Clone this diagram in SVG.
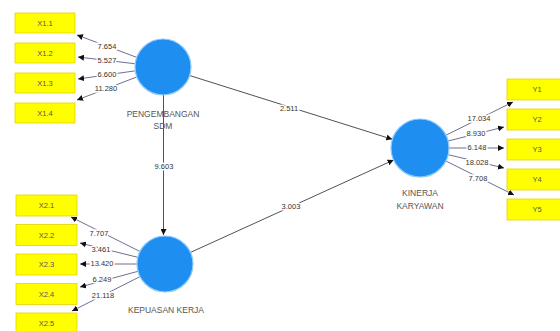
<svg xmlns="http://www.w3.org/2000/svg" width="560" height="331" viewBox="0 0 560 331">
<style>
.box{fill:#ffff00;stroke:#e6d200;stroke-width:0.8}
.bt{font-family:"Liberation Sans",Arial,sans-serif;font-size:7.5px;fill:#555;text-anchor:middle;dominant-baseline:central}
.node{fill:#1e8ff0;stroke:#8fcaff;stroke-width:1.2}
.nl{font-family:"Liberation Sans",Arial,sans-serif;font-size:8.5px;fill:#555;text-anchor:middle}
.ln{stroke:#3c3c4a;stroke-width:0.9;fill:none;marker-end:url(#ah)}
.ol{stroke:#4a4a78;stroke-width:0.8;fill:none;marker-end:url(#ah)}
.lb{font-family:"Liberation Sans",Arial,sans-serif;font-size:7.5px;fill:#333;text-anchor:middle;dominant-baseline:central;stroke:#fff;stroke-width:3;paint-order:stroke}
</style>
<defs>
<marker id="ah" markerUnits="userSpaceOnUse" markerWidth="7" markerHeight="6" refX="6" refY="3" orient="auto">
<path d="M0,0 L6,3 L0,6 Z" fill="#111"/>
</marker>
</defs>
<rect width="560" height="331" fill="#fff"/>
<g id="connectors">
<line class="ol" x1="136.3" y1="57.2" x2="77" y2="35"/>
<line class="ol" x1="134.7" y1="63.7" x2="78" y2="57"/>
<line class="ol" x1="134.8" y1="70.9" x2="78" y2="79"/>
<line class="ol" x1="136.4" y1="77.1" x2="77" y2="100"/>
<line class="ol" x1="140" y1="251.5" x2="71" y2="217"/>
<line class="ol" x1="137.8" y1="257.3" x2="80" y2="243"/>
<line class="ol" x1="137" y1="264" x2="80" y2="264"/>
<line class="ol" x1="138" y1="271.3" x2="80" y2="287"/>
<line class="ol" x1="140" y1="276.6" x2="72" y2="311"/>
<line class="ol" x1="446" y1="135.2" x2="513" y2="102"/>
<line class="ol" x1="448.1" y1="141" x2="504" y2="127"/>
<line class="ol" x1="449" y1="148" x2="504" y2="148"/>
<line class="ol" x1="448.2" y1="154.7" x2="504" y2="168"/>
<line class="ol" x1="445.9" y1="161" x2="514" y2="195"/>
<line class="ln" x1="189.2" y1="75.4" x2="392.3" y2="139.3"/>
<line class="ln" x1="190.5" y1="252.4" x2="393.6" y2="160"/>
<line class="ln" x1="163.5" y1="95" x2="163.5" y2="235"/>
<text class="lb" x="107" y="46">7.654</text>
<text class="lb" x="107" y="60.5">5.527</text>
<text class="lb" x="107" y="74.5">6.600</text>
<text class="lb" x="106" y="88.5">11.280</text>
<text class="lb" x="99" y="233.5">7.707</text>
<text class="lb" x="101" y="249.5">3.461</text>
<text class="lb" x="102" y="263.5">13.420</text>
<text class="lb" x="102" y="279.5">6.249</text>
<text class="lb" x="103" y="295">21.118</text>
<text class="lb" x="479" y="118.5">17.034</text>
<text class="lb" x="476" y="133.5">8.930</text>
<text class="lb" x="477" y="147.5">6.148</text>
<text class="lb" x="477" y="162">18.028</text>
<text class="lb" x="478" y="178">7.708</text>
<text class="lb" x="289" y="108">2.511</text>
<text class="lb" x="291" y="206">3.003</text>
<text class="lb" x="164" y="166">9.603</text>
</g>
<g id="X1.1"><rect class="box" x="15" y="13" width="60" height="20"/><text class="bt" x="45" y="23">X1.1</text></g>
<g id="X1.2"><rect class="box" x="15" y="43" width="60" height="20"/><text class="bt" x="45" y="53">X1.2</text></g>
<g id="X1.3"><rect class="box" x="15" y="73" width="60" height="20"/><text class="bt" x="45" y="83">X1.3</text></g>
<g id="X1.4"><rect class="box" x="15" y="103" width="60" height="20"/><text class="bt" x="45" y="113">X1.4</text></g>
<g id="X2.1"><rect class="box" x="16" y="195" width="61" height="21"/><text class="bt" x="46.5" y="205.5">X2.1</text></g>
<g id="X2.2"><rect class="box" x="16" y="224.5" width="61" height="21"/><text class="bt" x="46.5" y="235">X2.2</text></g>
<g id="X2.3"><rect class="box" x="16" y="254" width="61" height="21"/><text class="bt" x="46.5" y="264.5">X2.3</text></g>
<g id="X2.4"><rect class="box" x="16" y="283.5" width="61" height="21"/><text class="bt" x="46.5" y="294">X2.4</text></g>
<g id="X2.5"><rect class="box" x="16" y="313" width="61" height="21"/><text class="bt" x="46.5" y="323.5">X2.5</text></g>
<g id="Y1"><rect class="box" x="507" y="79" width="60" height="21"/><text class="bt" x="537" y="89.5">Y1</text></g>
<g id="Y2"><rect class="box" x="507" y="109" width="60" height="21"/><text class="bt" x="537" y="119.5">Y2</text></g>
<g id="Y3"><rect class="box" x="507" y="139" width="60" height="21"/><text class="bt" x="537" y="149.5">Y3</text></g>
<g id="Y4"><rect class="box" x="507" y="169" width="60" height="21"/><text class="bt" x="537" y="179.5">Y4</text></g>
<g id="Y5"><rect class="box" x="507" y="199" width="60" height="21"/><text class="bt" x="537" y="209.5">Y5</text></g>
<g id="PENGEMBANGAN_SDM"><circle class="node" cx="163" cy="67" r="28"/><text class="nl" x="163" y="117">PENGEMBANGAN</text><text class="nl" x="163" y="129">SDM</text></g>
<g id="KEPUASAN_KERJA"><circle class="node" cx="165" cy="264" r="28"/><text class="nl" x="166" y="313">KEPUASAN KERJA</text></g>
<g id="KINERJA_KARYAWAN"><circle class="node" cx="420" cy="148" r="29"/><text class="nl" x="420" y="196">KINERJA</text><text class="nl" x="420" y="209">KARYAWAN</text></g>
</svg>
